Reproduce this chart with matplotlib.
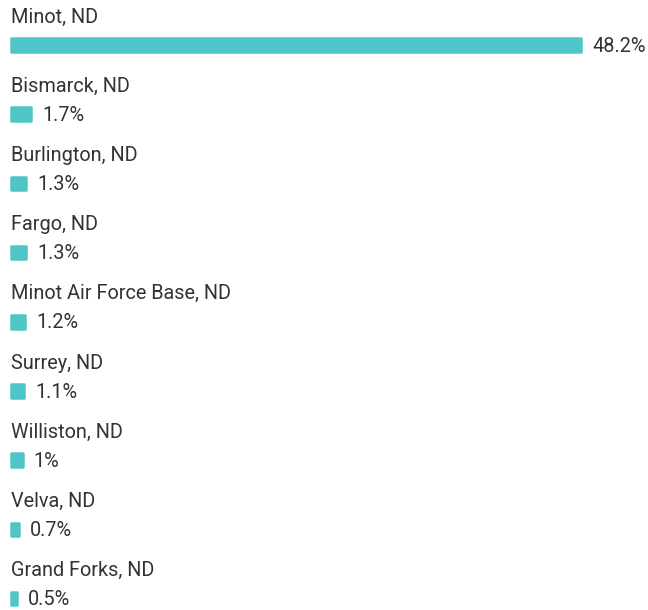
import matplotlib.pyplot as plt

# Share of residents by city
ciudades = ['Minot, ND', 'Bismarck, ND', 'Burlington, ND', 'Fargo, ND',
            'Minot Air Force Base, ND', 'Surrey, ND', 'Williston, ND',
            'Velva, ND', 'Grand Forks, ND']
porcentajes = [48.2, 1.7, 1.3, 1.3, 1.2, 1.1, 1.0, 0.7, 0.5]
etiquetas = ['48.2%', '1.7%', '1.3%', '1.3%', '1.2%', '1.1%', '1%', '0.7%', '0.5%']

color_barra = '#50C5C7'
color_texto = '#333333'

plt.rcParams['font.family'] = ['Roboto', 'DejaVu Sans']

fig = plt.figure(figsize=(6.48, 6.10), dpi=100)
ax = fig.add_axes([0, 0, 1, 1])

# escala: 1% = 11.83 px, origen en x=11 px; filas cada 69.2 px
px_por_pct = 11.83
fila_px = 69.2
ax.set_xlim(-11 / px_por_pct, (648 - 11) / px_por_pct)
ax.set_ylim((610 - 45) / fila_px, -45 / fila_px)

filas = list(range(len(ciudades)))
ax.barh(filas, porcentajes, height=13.5 / fila_px, color=color_barra,
        edgecolor=color_barra, linewidth=1.8, joinstyle='round')

for i, (nombre, valor, etiqueta) in enumerate(zip(ciudades, porcentajes, etiquetas)):
    ax.text(0, i - 28 / fila_px, nombre, ha='left', va='center',
            fontsize=14.3, color=color_texto)
    ax.text(valor + 11 / px_por_pct, i + 1 / fila_px, etiqueta, ha='left', va='center',
            fontsize=14.3, color=color_texto)

ax.axis('off')
fig.savefig('out.png', dpi=100)
